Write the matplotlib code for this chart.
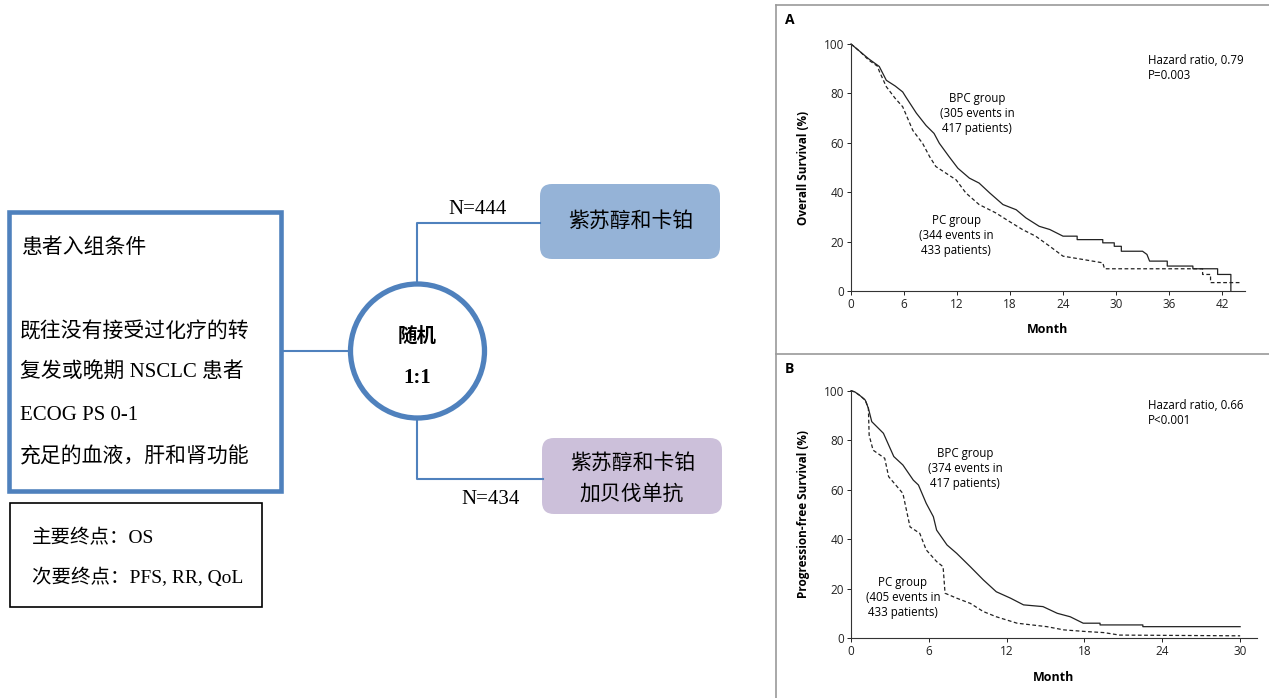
import matplotlib
matplotlib.use("Agg")
import matplotlib.pyplot as plt
from matplotlib.patches import Rectangle, FancyBboxPatch, Circle

# ---- datos del diagrama ----
criterios_titulo = "患者入组条件"
criterios = ["既往没有接受过化疗的转", "复发或晚期 NSCLC 患者", "ECOG PS 0-1", "充足的血液，肝和肾功能"]
endpoints = ["主要终点：OS", "次要终点：PFS, RR, QoL"]
brazo_a = "紫苏醇和卡铂"
brazo_b = ["紫苏醇和卡铂", "加贝伐单抗"]
n_a, n_b = "N=444", "N=434"

# ---- curvas (A: supervivencia global) ----
os_bpc_t = [0, 1.0, 2.0, 3.2, 4.0, 5.0, 5.85, 6.2, 7.4, 8.5, 9.4, 10.0, 11.1, 12.1, 13.4, 14.5,
            15.7, 17.2, 18.7, 19.8, 21.3, 22.5, 24.0, 25.6, 25.6, 28.5, 28.5, 29.8, 29.8, 30.6,
            30.6, 33.0, 33.5, 33.8, 35.8, 35.8, 38.7, 38.7, 41.5, 41.5, 43.0, 43.0]
os_bpc_s = [100, 97, 94, 90.9, 85.3, 83, 80.6, 78.6, 72, 67, 63.8, 59.8, 54.4, 49.7, 45.7, 43.7,
            39.7, 35, 32.9, 29.6, 26.2, 24.9, 22.2, 22.2, 20.8, 20.8, 19.5, 19.5, 18.1, 18.1,
            16.1, 16.1, 14.8, 12.1, 12.1, 10.1, 10.1, 9.0, 9.0, 6.7, 6.7, 0]
os_pc_t = [0, 1.0, 2.0, 3.0, 3.2, 4.0, 5.0, 5.85, 7.0, 8.1, 8.9, 9.6, 10.75, 11.9, 13.0, 14.5,
           16.4, 17.9, 19.4, 20.9, 22.5, 24.0, 26.2, 28.5, 28.7, 39.8, 39.8, 40.7, 40.7, 44.0]
os_pc_s = [100, 97, 93.5, 91, 89, 82.7, 78, 74.6, 65, 59.8, 54.4, 50.4, 47.7, 45, 39.7, 35,
           31.6, 28.2, 24.9, 22.2, 18.1, 14.1, 12.8, 11.4, 9.0, 9.0, 6.7, 6.7, 3.4, 3.4]

# ---- B: supervivencia libre de progresion ----
pfs_bpc_t = [0, 0.3, 0.7, 1.1, 1.34, 1.6, 2.5, 3.3, 4.0, 4.8, 5.2, 5.8, 6.35, 6.6, 7.4, 8.15, 9.2,
             10.2, 11.2, 12.3, 13.3, 14.8, 15.9, 16.9, 17.9, 19.2, 19.2, 22.5, 22.5, 30.0]
pfs_bpc_s = [100, 99.5, 98, 96.2, 92.9, 87.5, 82.8, 73.4, 70, 63.9, 61.9, 54.5, 49.1, 43.7, 37.7, 34.3,
             28.9, 23.6, 18.8, 16.2, 13.5, 12.8, 10.1, 8.7, 6.1, 6.1, 5.4, 5.4, 4.7, 4.7]
pfs_pc_t = [0, 0.3, 0.7, 1.1, 1.34, 1.4, 1.7, 2.6, 2.9, 4.0, 4.55, 5.3, 5.8, 6.6, 7.1, 7.25, 8.15,
            9.2, 10.2, 11.2, 12.8, 15.1, 16.4, 18.2, 19.5, 20.7, 30.0]
pfs_pc_s = [100, 99.5, 98, 96.2, 92.9, 82, 76, 72.7, 65.3, 58.5, 45, 42.4, 35.7, 31, 28.9, 18.2,
            16.2, 14.1, 10.8, 8.7, 6.1, 4.7, 3.4, 2.7, 2.3, 1.3, 1.0]

azul = "#4f81bd"
cjk = ["Liberation Serif", "Noto Sans CJK SC"]
sans = ["Open Sans", "DejaVu Sans"]

fig = plt.figure(figsize=(12.69, 6.98), dpi=100)

# lienzo en pixeles para el diagrama
ax0 = fig.add_axes([0, 0, 1, 1])
ax0.set_xlim(0, 1269)
ax0.set_ylim(698, 0)
ax0.axis("off")

ax0.add_patch(Rectangle((9, 212), 272, 279, fill=False, ec=azul, lw=3.3))
ax0.text(22, 248, criterios_titulo, family=cjk, fontsize=15, va="center")
for y, t in zip([332, 373, 415, 457], criterios):
    ax0.text(20, y, t, family=cjk, fontsize=15, va="center")

ax0.add_patch(Rectangle((10, 503), 252, 104, fill=False, ec="black", lw=1.2))
for y, t in zip([538, 577], endpoints):
    ax0.text(32, y, t, family=cjk, fontsize=14, va="center")

# conexiones
ax0.plot([283, 350], [351, 351], color=azul, lw=1.5)
ax0.plot([417, 417, 540], [284, 223, 223], color=azul, lw=1.5)
ax0.plot([417, 417, 543], [418, 479, 479], color=azul, lw=1.5)
ax0.add_patch(Circle((417.5, 351), 67, fill=False, ec=azul, lw=3.8))
ax0.text(417, 336, "随机", family=cjk, fontsize=14, fontweight="bold", ha="center", va="center")
ax0.text(417, 378, "1:1", family=cjk, fontsize=15, fontweight="bold", ha="center", va="center")

ax0.add_patch(FancyBboxPatch((540, 184), 180, 75, boxstyle="round,pad=0,rounding_size=12",
                             fc="#95b3d7", ec="none"))
ax0.text(631, 222, brazo_a, family=cjk, fontsize=15, ha="center", va="center")
ax0.add_patch(FancyBboxPatch((542, 438), 180, 76, boxstyle="round,pad=0,rounding_size=12",
                             fc="#ccc0da", ec="none"))
ax0.text(633, 464, brazo_b[0], family=cjk, fontsize=15, ha="center", va="center")
ax0.text(632, 495, brazo_b[1], family=cjk, fontsize=15, ha="center", va="center")
ax0.text(478, 209, n_a, family=cjk, fontsize=15, ha="center", va="center")
ax0.text(491, 500, n_b, family=cjk, fontsize=15, ha="center", va="center")

# marco gris del panel derecho
gris = "#9a9a9a"
ax0.plot([776, 776], [5, 698], color=gris, lw=1.2)
ax0.plot([776, 1269], [5, 5], color=gris, lw=1.2)
ax0.plot([776, 1269], [354, 354], color=gris, lw=1.2)
ax0.text(785, 20, "A", family=sans, fontsize=10, fontweight="bold", va="center")
ax0.text(785, 369, "B", family=sans, fontsize=10, fontweight="bold", va="center")


def panel_km(rect, t1, s1, t2, s2, xmax, xticks, ylabel, hr, bpc, pc):
    ax = fig.add_axes(rect)
    ax.plot(t1, s1, color="#222222", lw=0.9, clip_on=False)
    ax.plot(t2, s2, color="#222222", lw=0.9, dashes=(3, 2), clip_on=False)
    ax.set_xlim(0, xmax)
    ax.set_ylim(0, 100)
    ax.set_xticks(xticks)
    ax.set_yticks([0, 20, 40, 60, 80, 100])
    for s in ["top", "right"]:
        ax.spines[s].set_visible(False)
    for s in ["left", "bottom"]:
        ax.spines[s].set_linewidth(0.8)
        ax.spines[s].set_color("#333333")
    ax.tick_params(direction="out", length=3, width=0.7, labelsize=8.5, pad=2, colors="#222222")
    for lab in ax.get_xticklabels() + ax.get_yticklabels():
        lab.set_family(sans)
    ax.set_xlabel("Month", family=sans, fontsize=9, fontweight="bold", labelpad=9)
    ax.set_ylabel(ylabel, family=sans, fontsize=8.5, fontweight="bold", labelpad=10)
    ax.text(hr[0], hr[1], hr[2], family=sans, fontsize=8.3, va="top", linespacing=1.2)
    ax.text(bpc[0], bpc[1], bpc[2], family=sans, fontsize=8.3, ha="center", va="center", linespacing=1.2)
    ax.text(pc[0], pc[1], pc[2], family=sans, fontsize=8.3, ha="center", va="center", linespacing=1.2)
    return ax


panel_km([851 / 1269, 1 - 291 / 698, 394 / 1269, 247 / 698],
         os_bpc_t, os_bpc_s, os_pc_t, os_pc_s, 44.6, list(range(0, 43, 6)),
         "Overall Survival (%)",
         (33.6, 96, "Hazard ratio, 0.79\nP=0.003"),
         (14.3, 72, "BPC group\n(305 events in\n417 patients)"),
         (11.9, 22.5, "PC group\n(344 events in\n433 patients)"))

panel_km([851 / 1269, 1 - 638.3 / 698, 406 / 1269, 247.6 / 698],
         pfs_bpc_t, pfs_bpc_s, pfs_pc_t, pfs_pc_s, 31.3, list(range(0, 31, 6)),
         "Progression-free Survival (%)",
         (22.9, 96.5, "Hazard ratio, 0.66\nP<0.001"),
         (8.8, 68.5, "BPC group\n(374 events in\n417 patients)"),
         (4.0, 16.5, "PC group\n(405 events in\n433 patients)"))

fig.savefig("out.png", dpi=100)
